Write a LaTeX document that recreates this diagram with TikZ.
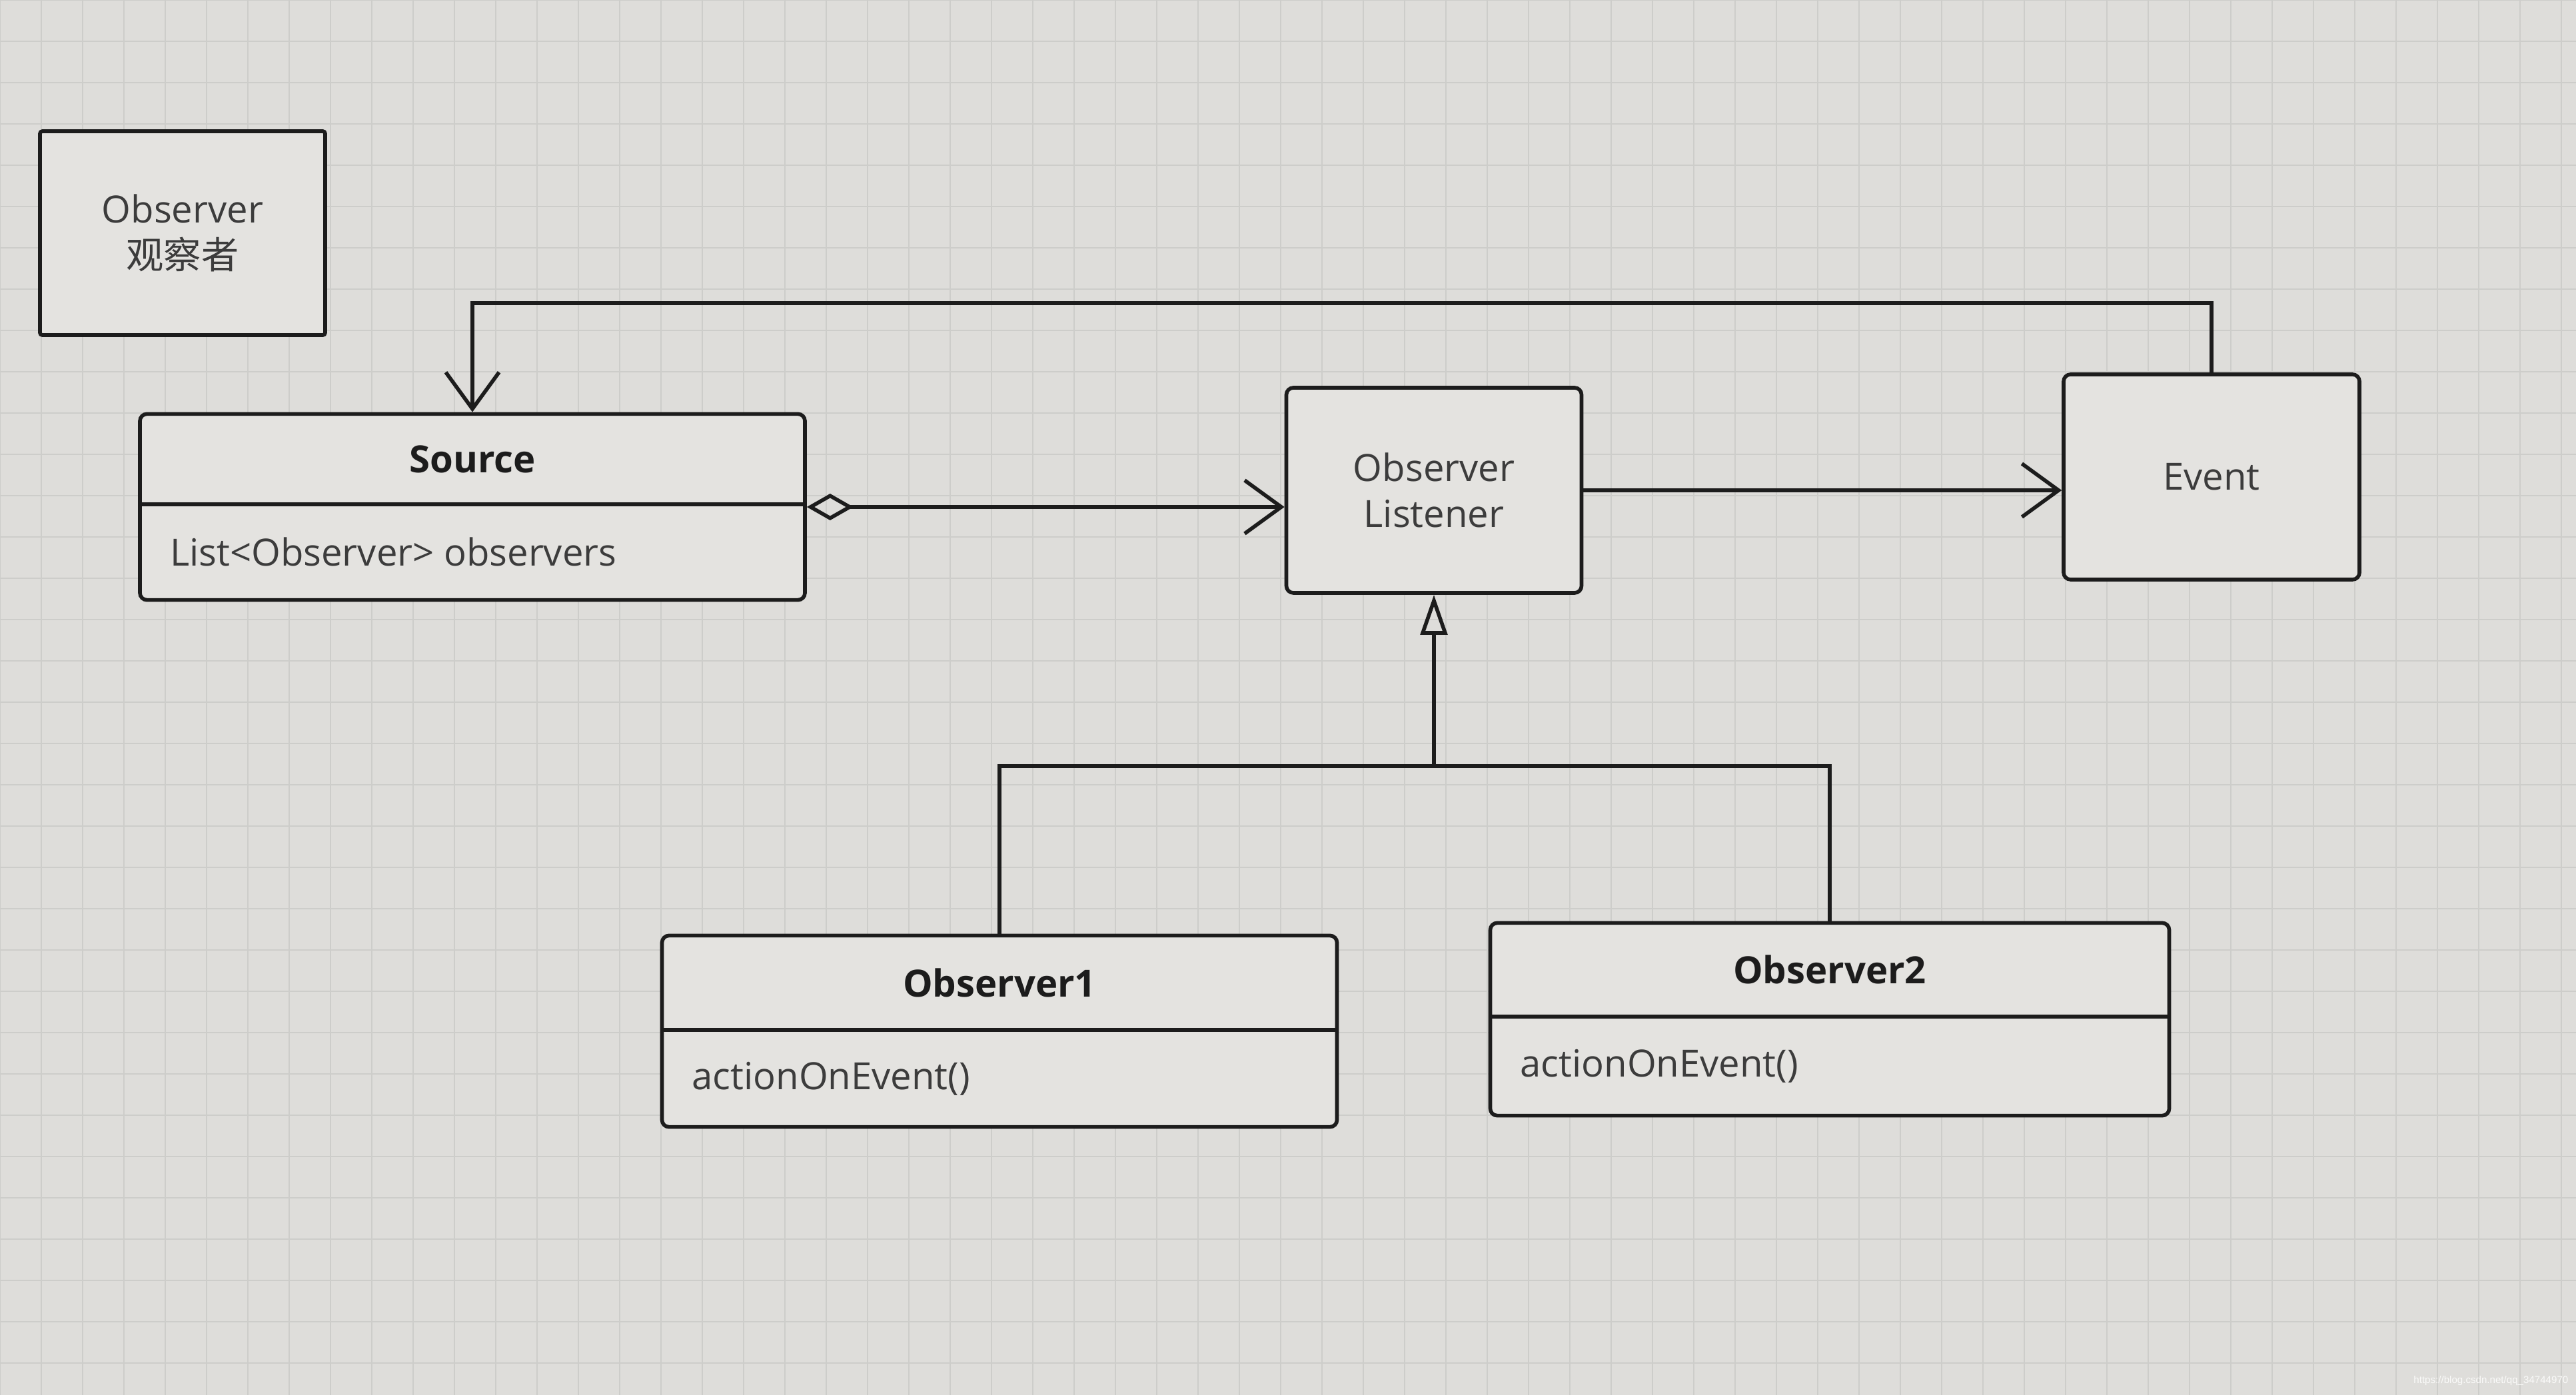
\documentclass[tikz,border=0pt]{standalone}
\usepackage{fontspec}
\setmainfont{Open Sans}
\newfontfamily\cjkfont{Noto Sans CJK SC}
\newfontfamily\wmfont{Liberation Sans}
\usetikzlibrary{arrows.meta,positioning,shapes.multipart}
\definecolor{screen}{HTML}{DEDDDA}
\definecolor{gridline}{HTML}{CDCDCA}
\definecolor{boxfill}{HTML}{E4E3E0}
\definecolor{ink}{HTML}{1C1C1C}
\definecolor{textgray}{HTML}{3C3C3C}
\newcommand{\classhead}[3]{\parbox[c][#2][c]{#1}{\centering\bfseries\color{ink}#3}}
\newcommand{\classbody}[3]{\parbox[c][#2][c]{#1}{\noindent\hspace*{0.45cm}#3}}
\tikzset{
  plainbox/.style={draw=ink,fill=boxfill,line width=1.6pt,rounded corners=3pt,
                   align=center,inner sep=0pt,text=textgray,
                   font=\fontsize{16}{19.5}\selectfont},
  umlclass/.style={rectangle split,rectangle split parts=2,draw=ink,
                   fill=boxfill,line width=1.6pt,rounded corners=3pt,
                   inner sep=0pt,text=textgray,
                   font=\fontsize{16}{19.5}\selectfont},
  wire/.style={draw=ink,line width=1.6pt},
  assocarr/.style={wire,-{Straight Barb[length=5.5mm,width=8mm]}},
  aggarr/.style={wire,{Diamond[open,length=7mm,width=4mm]}-{Straight Barb[length=5.5mm,width=8mm]}},
  inheritarr/.style={wire,-{Triangle[open,length=6mm,width=4mm]}}
}

\begin{document}
\begin{tikzpicture}[x=1cm,y=1cm]
    \fill[screen] (0,0) rectangle (38.66,-20.94);
    \path[use as bounding box] (0,0) rectangle (38.66,-20.94);
    \draw[gridline,line width=0.6pt,step=0.62] (0,-20.94) grid (38.66,0);

    % note box
    \node[plainbox,rounded corners=1pt,minimum width=4.28cm,minimum height=3.06cm]
      (note) at (2.74,-3.50) {Observer\\{\cjkfont 观察者}};

    % classes
    \node[umlclass] (source) at (7.09,-7.61)
      {\classhead{9.98cm}{1.30cm}{Source}
       \nodepart{two}\classbody{9.98cm}{1.38cm}{List<Observer> observers}};
    \node[plainbox,minimum width=4.43cm,minimum height=3.08cm]
      (listener) at (21.52,-7.36) {Observer\\Listener};
    \node[plainbox,minimum width=4.44cm,minimum height=3.08cm]
      (event) at (33.19,-7.16) {Event};
    \node[umlclass] (obsone) at (15.00,-15.48)
      {\classhead{10.13cm}{1.36cm}{Observer1}
       \nodepart{two}\classbody{10.13cm}{1.40cm}{actionOnEvent()}};
    \node[umlclass] (obstwo) at (27.46,-15.30)
      {\classhead{10.19cm}{1.35cm}{Observer2}
       \nodepart{two}\classbody{10.19cm}{1.43cm}{actionOnEvent()}};

    % connectors
    \coordinate (loopleft) at (7.09,-4.55);
    \draw[assocarr] (event.north) |- (loopleft) -- (source.north);
    \draw[aggarr] (source.east) -- (source.east -| listener.west);
    \draw[assocarr] (listener.east) -- (listener.east -| event.west);
    \coordinate (junction) at (21.52,-11.50);
    \draw[wire] (obsone.north) |- (junction) -| (obstwo.north);
    \draw[inheritarr] (junction) -- (listener.south);

    \node[anchor=south east,inner sep=0pt,text=white!85!screen]
      (watermark) at (38.55,-20.80)
      {\wmfont\fontsize{4.3}{5}\selectfont https://blog.csdn.net/qq\_34744970};
  \end{tikzpicture}
\end{document}
